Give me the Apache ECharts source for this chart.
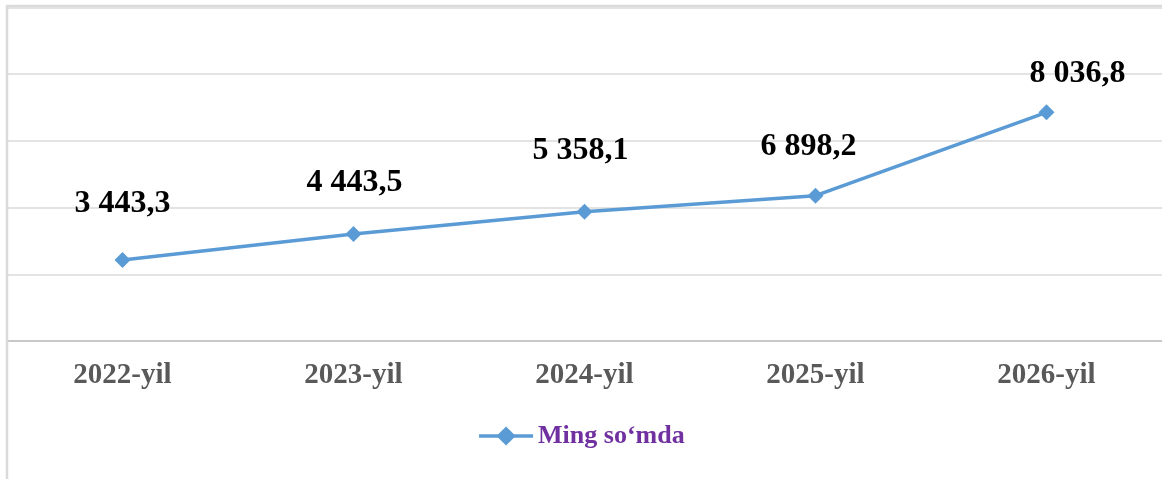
<!DOCTYPE html>
<html>
<head>
<meta charset="utf-8">
<title>Ming so‘mda</title>
<script src="https://cdn.jsdelivr.net/npm/echarts@6/dist/echarts.min.js"></script>
<style>
	html, body { margin: 0; padding: 0; background: #fff; }
	#chart { width: 1162px; height: 479px; }
</style>
</head>
<body>
<div id="chart"></div>
<script>
// yillar
var years = ['2022-yil', '2023-yil', '2024-yil', '2025-yil', '2026-yil'];
// chiziq nuqtalari (o'qdagi qiymatlar, rasmdan o'qilgan)
var values = [1214, 1604, 1939, 2178, 3429];
// nuqtalar ustidagi yozuvlar
var labelTexts = ['3 443,3', '4 443,5', '5 358,1', '6 898,2', '8 036,8'];
// yozuvlarni surish (px)
var labelShift = [[0, -56], [1, -51], [-4, -61], [-7, -49], [31, -39]];
var seriesName = 'Ming so‘mda';

var font = '"Times New Roman", "Liberation Serif", serif';

var points = [];
for (var i = 0; i < values.length; i++) {
	points.push({
		value: values[i],
		label: {
			formatter: labelTexts[i],
			offset: labelShift[i]
		}
	});
}

var myChart = echarts.init(document.getElementById('chart'));
var option = {
	animation: false,
	backgroundColor: '#fff',
	graphic: [{
		type: 'rect',
		shape: { x: 7, y: 6, width: 1200, height: 520 },
		style: { fill: 'none', stroke: '#dadada', lineWidth: 2.5 },
		z: 100
	}],
	grid: {
		left: 7,
		right: -2,
		top: 7.5,
		bottom: 138
	},
	legend: {
		data: [seriesName],
		left: 'center',
		top: 418,
		itemWidth: 54,
		itemHeight: 24,
		itemStyle: { color: '#5B9BD5' },
		lineStyle: { width: 3.5, color: '#5B9BD5' },
		textStyle: {
			color: '#7030A0',
			fontFamily: font,
			fontWeight: 'bold',
			fontSize: 26
		}
	},
	xAxis: {
		type: 'category',
		data: years,
		boundaryGap: true,
		axisLine: { lineStyle: { color: '#c8c8c8', width: 2 } },
		axisTick: { show: false },
		axisLabel: {
			color: '#595959',
			fontFamily: font,
			fontWeight: 'bold',
			fontSize: 29,
			margin: 20
		}
	},
	yAxis: {
		type: 'value',
		min: 0,
		max: 5000,
		interval: 1000,
		axisLine: { show: false },
		axisTick: { show: false },
		axisLabel: { show: false },
		splitLine: { lineStyle: { color: '#e3e3e3', width: 2 } }
	},
	series: [{
		name: seriesName,
		type: 'line',
		data: points,
		symbol: 'diamond',
		symbolSize: 16,
		color: '#5B9BD5',
		lineStyle: { width: 3.5, color: '#5B9BD5' },
		itemStyle: { color: '#5B9BD5' },
		label: {
			show: true,
			position: 'inside',
			color: '#000',
			fontFamily: font,
			fontWeight: 'bold',
			fontSize: 32
		}
	}]
};
myChart.setOption(option);
</script>
</body>
</html>
